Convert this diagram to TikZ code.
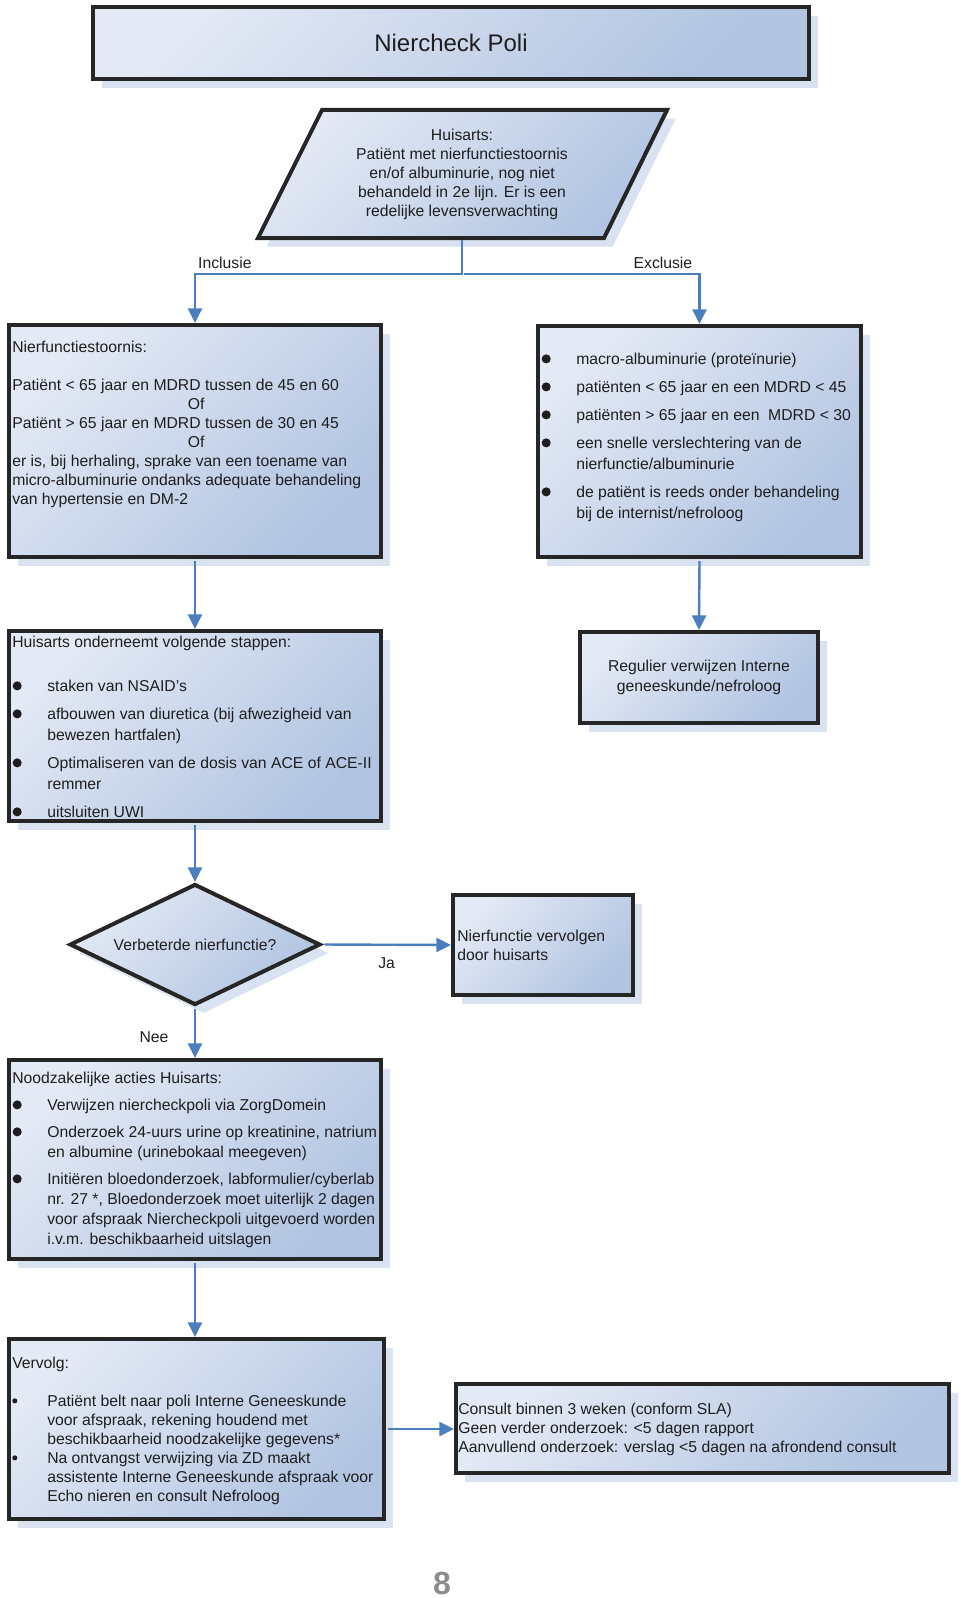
\documentclass[tikz,border=0pt]{standalone}
\usepackage{fontspec}
\setmainfont{Liberation Sans}
\usetikzlibrary{shapes.geometric,shadows,arrows.meta,calc}

\definecolor{boxlight}{HTML}{E3E9F5}
\definecolor{boxdark}{HTML}{B1C4E1}
\definecolor{shadowcol}{HTML}{D9E2F1}
\definecolor{linecol}{HTML}{262626}
\definecolor{arrowcol}{HTML}{4A7EBE}
\definecolor{txtcol}{HTML}{1E1E1E}
\definecolor{pagecol}{HTML}{8C8C8C}

\newcommand{\itemdot}{\makebox[26.25pt][l]{\hspace*{0.3pt}\raisebox{0.9pt}{\tikz\fill[txtcol] (0,0) circle (3.4pt);}}}
\newcommand{\smalldot}{\makebox[26.25pt][l]{\raisebox{2.4pt}{\tikz\fill[txtcol] (0,0) circle (1.9pt);}}}
\newcommand{\indt}{\hspace*{26.25pt}}
\newcommand{\topstrut}{\rule{0pt}{10pt}}

\begin{document}
\begin{tikzpicture}[x=0.75pt, y=-0.75pt,
    box/.style={draw=linecol, line width=3pt, top color=boxlight, bottom color=boxdark, shading angle=45,
      drop shadow={shadow xshift=6.5pt, shadow yshift=-6.5pt, fill=shadowcol, opacity=1},
      text=txtcol, align=center, font=\fontsize{11.8pt}{15pt}\selectfont},
    txt/.style={inner sep=0pt, align=left, anchor=north west, text=txtcol, font=\fontsize{11.8pt}{14.25pt}\selectfont},
    lst/.style={txt, font=\fontsize{11.8pt}{15.75pt}\selectfont},
    lbl/.style={inner sep=0pt, text=txtcol, font=\fontsize{11.8pt}{14.25pt}\selectfont},
    arr/.style={draw=arrowcol, line width=1.8pt, -{Triangle[length=11pt,width=10.5pt]}, shorten <=1.5pt}]
  \useasboundingbox (0,0) rectangle (960,1598);

  \node[box, minimum width=537pt, minimum height=54pt, font=\fontsize{18pt}{22pt}\selectfont] (title) at (451,43) {Niercheck Poli};

  \path[box] (322,110) -- (667,110) -- (604,238) -- (258,238) -- cycle;
  \node[lbl, align=center] (huisarts) at (462,174.5) {Huisarts:\\Patiënt met nierfunctiestoornis\\en/of albuminurie, nog niet\\behandeld in 2e lijn. Er is een\\redelijke levensverwachting};
  \coordinate (hbot) at (462,238);
  \coordinate (split) at (462,274);

  \node[box, minimum width=279pt, minimum height=174pt] (incl) at (195,441) {};
  \node[txt] (incltxt) at (12,339) {\topstrut Nierfunctiestoornis:\\[14.25pt]
    Patiënt < 65 jaar en MDRD tussen de 45 en 60\\
    \makebox[276pt]{Of}\\
    Patiënt > 65 jaar en MDRD tussen de 30 en 45\\
    \makebox[276pt]{Of}\\
    er is, bij herhaling, sprake van een toename van\\
    micro-albuminurie ondanks adequate behandeling\\
    van hypertensie en DM-2};

  \node[box, minimum width=242.25pt, minimum height=173.25pt] (excl) at (699.5,441.5) {};
  \node[lst] (excltxt) at (541,351) {\topstrut\itemdot macro-albuminurie (proteïnurie)\\[5.25pt]
    \itemdot patiënten < 65 jaar en een MDRD < 45\\[5.25pt]
    \itemdot patiënten > 65 jaar en een\ \ MDRD < 30\\[5.25pt]
    \itemdot een snelle verslechtering van de\\
    \indt nierfunctie/albuminurie\\[5.25pt]
    \itemdot de patiënt is reeds onder behandeling\\
    \indt bij de internist/nefroloog};

  \node[box, minimum width=279pt, minimum height=142.5pt] (steps) at (195,726) {};
  \node[lst] (stepstxt) at (12,634) {\topstrut Huisarts onderneemt volgende stappen:\\[17.25pt]
    \itemdot staken van NSAID’s\\[5.25pt]
    \itemdot afbouwen van diuretica (bij afwezigheid van\\
    \indt bewezen hartfalen)\\[5.25pt]
    \itemdot Optimaliseren van de dosis van ACE of ACE-II\\
    \indt remmer\\[5.25pt]
    \itemdot uitsluiten UWI};

  \node[box, minimum width=178.5pt, minimum height=68.25pt] (reg) at (699,677.5) {Regulier verwijzen Interne\\geneeskunde/nefroloog};

  \node[box, diamond, aspect=2, inner sep=0pt, minimum width=188pt, minimum height=90.75pt] (dia) at (195,944.5) {Verbeterde nierfunctie?};

  \node[box, minimum width=135pt, minimum height=75pt] (nierf) at (543,945) {};
  \node[txt] (nierftxt) at (457,928) {\topstrut Nierfunctie vervolgen\\door huisarts};

  \node[box, minimum width=279pt, minimum height=149.25pt] (nood) at (195,1159.5) {};
  \node[txt, font=\fontsize{11.8pt}{15pt}\selectfont] (noodtxt) at (12,1070) {\topstrut Noodzakelijke acties Huisarts:\\[5.25pt]
    \itemdot Verwijzen niercheckpoli via ZorgDomein\\[5.25pt]
    \itemdot Onderzoek 24-uurs urine op kreatinine, natrium\\
    \indt en albumine (urinebokaal meegeven)\\[5.25pt]
    \itemdot Initiëren bloedonderzoek, labformulier/cyberlab\\
    \indt nr. 27 *, Bloedonderzoek moet uiterlijk 2 dagen\\
    \indt voor afspraak Niercheckpoli uitgevoerd worden\\
    \indt i.v.m. beschikbaarheid uitslagen};

  \node[box, minimum width=281.25pt, minimum height=135pt] (verv) at (196.5,1429) {};
  \node[txt] (vervtxt) at (12,1355) {\topstrut Vervolg:\\[14.25pt]
    \smalldot Patiënt belt naar poli Interne Geneeskunde\\
    \indt voor afspraak, rekening houdend met\\
    \indt beschikbaarheid noodzakelijke gegevens*\\
    \smalldot Na ontvangst verwijzing via ZD maakt\\
    \indt assistente Interne Geneeskunde afspraak voor\\
    \indt Echo nieren en consult Nefroloog};

  \node[box, minimum width=369.75pt, minimum height=66.75pt] (consult) at (702.5,1428.5) {};
  \node[txt] (consulttxt) at (458,1401) {\topstrut Consult binnen 3 weken (conform SLA)\\
    Geen verder onderzoek: <5 dagen rapport\\
    Aanvullend onderzoek: verslag <5 dagen na afrondend consult};

  \draw[arr] (hbot) -- (split) -| node[lbl, pos=0.444, yshift=8.25pt] (inclab) {Inclusie} (incl.north);
  \draw[arr] (split) -| node[lbl, pos=0.423, yshift=8.25pt] (exclab) {Exclusie} (excl.north);
  \draw[arr] (incl.south) -- (steps.north);
  \draw[arr] (excl.south) -- (reg.north);
  \draw[arr] (steps.south) -- (dia.north);
  \draw[arr] (dia.east) -- node[lbl, yshift=-13.5pt] (ja) {Ja} (nierf.west);
  \draw[arr] (dia.south) -- node[lbl, pos=0.6, xshift=-30.75pt] (nee) {Nee} (nood.north);
  \draw[arr] (nood.south) -- (nood.south |- verv.north);
  \draw[arr] (verv.east) -- (verv.east -| consult.west);

  \node[inner sep=0pt, text=pagecol, font=\bfseries\fontsize{24pt}{28pt}\selectfont] (pagenr) at (442,1583) {8};
\end{tikzpicture}
\end{document}
